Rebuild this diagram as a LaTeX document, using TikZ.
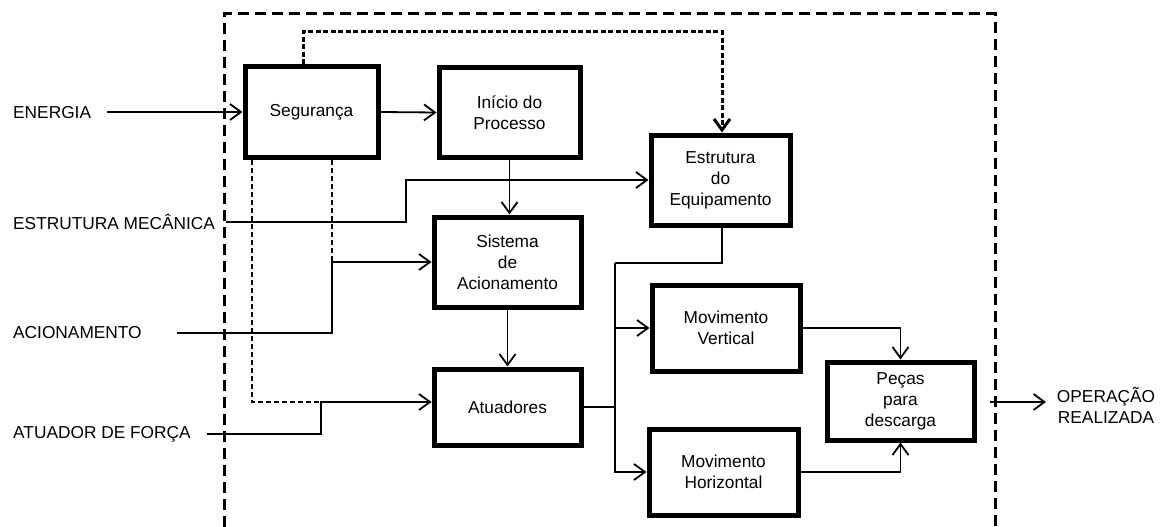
\documentclass[tikz,border=0pt]{standalone}
\usepackage{fontspec}
\setmainfont{Liberation Sans}
\usetikzlibrary{arrows.meta}
\newcommand{\diafont}{\fontsize{17.3}{21}\selectfont}
\begin{document}
\begin{tikzpicture}[x=1pt,y=-1pt,
  box/.style={draw,line width=5pt,inner sep=0pt,align=center,font=\diafont},
  lbl/.style={anchor=west,inner sep=0pt,font=\diafont},
  ln/.style={line width=1.8pt},
  arrowed/.style={-{Straight Barb[length=11pt,width=16pt]}},
  outer/.style={line width=3pt,dash pattern=on 11pt off 6pt},
  dsh/.style={line width=2.2pt,dash pattern=on 5pt off 3pt},
  dot/.style={line width=3pt,dash pattern=on 5pt off 2.5pt}]
\useasboundingbox (0,0) rectangle (1160,527);

% outer boundary
\draw[outer] (224,527) -- (224,14) -- (995,14) -- (995,527);

% boxes
\node[box,minimum width=133pt,minimum height=90pt] (seg) at (311.5,112) {Segurança};
\node[box,minimum width=141pt,minimum height=89pt] (ini) at (509.5,112.5) {Início do\\Processo};
\node[box,minimum width=139pt,minimum height=90pt] (est) at (720.5,180) {Estrutura\\do\\Equipamento};
\node[box,minimum width=147pt,minimum height=90pt] (sis) at (507.5,262) {Sistema\\de\\Acionamento};
\node[box,minimum width=147pt,minimum height=76pt] (atu) at (507.5,407) {Atuadores};
\node[box,minimum width=148pt,minimum height=86pt] (mv) at (726,328) {Movimento\\Vertical};
\node[box,minimum width=149pt,minimum height=86pt] (mh) at (723.5,472) {Movimento\\Horizontal};
\node[box,minimum width=147pt,minimum height=78pt] (pec) at (900.5,401) {Peças\\para\\descarga};

% external labels
\node[lbl] (lener) at (13,113) {ENERGIA};
\node[lbl] (lmec) at (13,222) {ESTRUTURA MECÂNICA};
\node[lbl] (lacio) at (13,333) {ACIONAMENTO};
\node[lbl] (latu) at (13,434) {ATUADOR DE FORÇA};
\node[inner sep=0pt,align=center,font=\diafont] (lop) at (1106,405) {OPERAÇÃO\\REALIZADA};

% coordinates
\coordinate (e0) at (107,112);
\coordinate (m0) at (226,222);
\coordinate (m1) at (406,222);
\coordinate (a0) at (177,333);
\coordinate (a1) at (332,333);
\coordinate (f0) at (207,434);
\coordinate (f1) at (321,434);
\coordinate (f2) at (321,402);
\coordinate (g1) at (252,402);
\coordinate (d1) at (303,32);
\coordinate (d2) at (722,32);
\coordinate (b1) at (722,263);
\coordinate (b2) at (615,263);
\coordinate (o0) at (990,402);
\coordinate (o1) at (1046,402);

% dashed / dotted control lines
\draw[dot,arrowed] (seg.north -| d1) -- (d1) -- (d2) -- (d2 |- est.north);
\draw[dsh] (seg.south -| a1) -- (a1 |- sis.west);
\draw[dsh] (seg.south -| g1) -- (g1) -- (g1 -| atu.west);

% solid connectors
\draw[ln,arrowed] (e0) -- (seg.west);
\draw[ln,arrowed] (seg.east) -- (ini.west);
\draw[ln,arrowed] (m0) -- (m1) |- (est.west);
\draw[ln,arrowed] (a0) -- (a1) |- (sis.west);
\draw[ln,arrowed] (f0) -- (f1) -- (f2) -- (f2 -| atu.west);
\draw[ln,arrowed] (ini.south) -- (ini.south |- sis.north);
\draw[ln,arrowed] (sis.south) -- (atu.north);
\draw[ln] (est.south -| b1) -- (b1) -- (b2);
\draw[ln,arrowed] (b2) |- (mh.west);
\draw[ln,arrowed] (b2 |- mv.west) -- (mv.west);
\draw[ln] (atu.east) -- (atu.east -| b2);
\draw[ln,arrowed] (mv.east) -| (pec.north);
\draw[ln,arrowed] (mh.east) -| (pec.south);
\draw[ln,arrowed] (o0) -- (o1);
\end{tikzpicture}
\end{document}
